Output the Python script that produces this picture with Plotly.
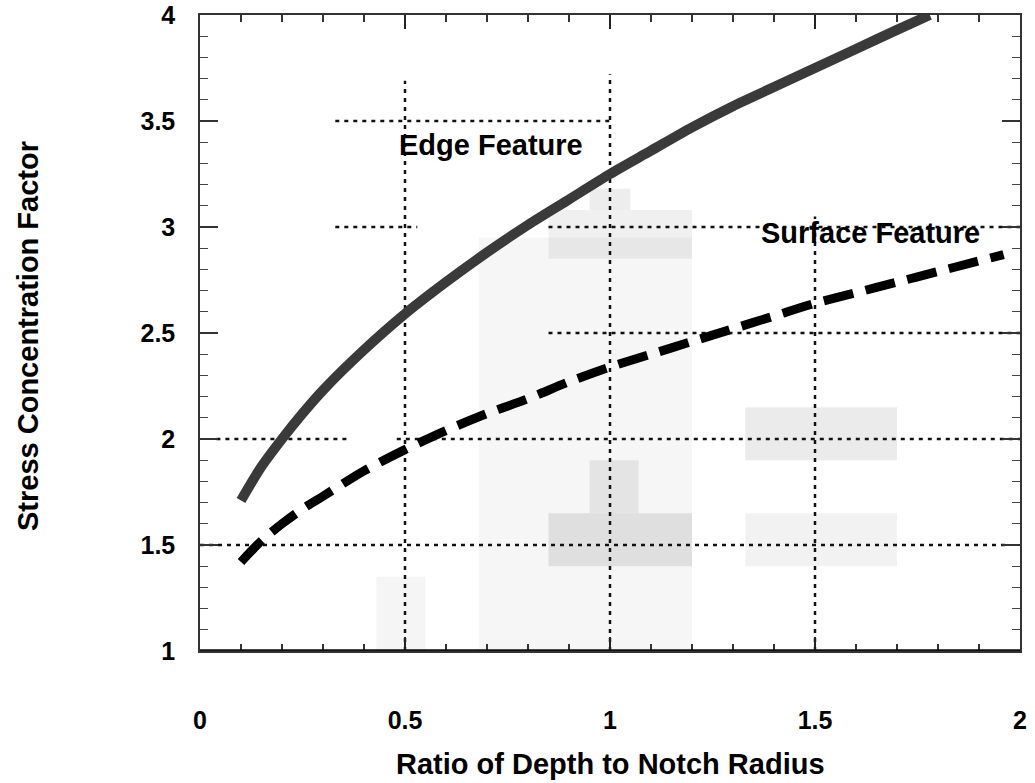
import plotly.graph_objects as go

# ---- data ----
edge_x = [0.1, 0.15, 0.2, 0.25, 0.3, 0.4, 0.5, 0.6, 0.7, 0.8, 0.9, 1.0,
          1.1, 1.2, 1.3, 1.4, 1.5, 1.6, 1.7, 1.78]
edge_y = [1.71, 1.87, 2.00, 2.12, 2.23, 2.42, 2.59, 2.74, 2.88, 3.01, 3.13, 3.25,
          3.36, 3.47, 3.57, 3.66, 3.75, 3.84, 3.93, 4.00]

surf_x = [0.1, 0.15, 0.2, 0.25, 0.3, 0.4, 0.5, 0.6, 0.7, 0.8, 0.9, 1.0,
          1.1, 1.2, 1.3, 1.4, 1.5, 1.6, 1.7, 1.8, 1.9, 1.96]
surf_y = [1.42, 1.52, 1.60, 1.67, 1.73, 1.85, 1.95, 2.04, 2.12, 2.19, 2.27, 2.34,
          2.40, 2.46, 2.52, 2.58, 2.64, 2.69, 2.74, 2.79, 2.84, 2.87]

x_ticks = [0, 0.5, 1, 1.5, 2]
x_tick_labels = ["0", "0.5", "1", "1.5", "2"]
y_ticks = [1, 1.5, 2, 2.5, 3, 3.5, 4]
y_tick_labels = ["1", "1.5", "2", "2.5", "3", "3.5", "4"]

labels = ["Edge Feature", "Surface Feature"]
label_x = [0.71, 1.635]
label_y = [3.385, 2.97]

x_title = "Ratio of Depth to Notch Radius"
y_title = "Stress Concentration Factor"

# dotted grid segments as they appear in the reference (x0, x1, y0, y1)
grid_segments = [
    (0.5, 0.5, 1.0, 3.69),
    (1.0, 1.0, 1.0, 3.72),
    (1.5, 1.5, 1.0, 3.05),
    (0.33, 1.0, 3.5, 3.5),
    (0.33, 0.53, 3.0, 3.0),
    (0.85, 2.0, 3.0, 3.0),
    (0.85, 2.0, 2.5, 2.5),
    (0.04, 0.36, 2.0, 2.0),
    (0.48, 2.0, 2.0, 2.0),
    (0.0, 1.97, 1.5, 1.5),
]

# faint scan-noise patches (x0, x1, y0, y1, colour)
patches = [
    (0.68, 1.2, 0.9, 2.95, "rgba(0,0,0,0.035)"),
    (0.85, 1.2, 2.85, 3.08, "rgba(0,0,0,0.06)"),
    (0.95, 1.05, 3.08, 3.18, "rgba(0,0,0,0.07)"),
    (0.85, 1.2, 1.4, 1.65, "rgba(0,0,0,0.09)"),
    (0.95, 1.07, 1.65, 1.9, "rgba(0,0,0,0.07)"),
    (1.33, 1.7, 1.9, 2.15, "rgba(0,0,0,0.08)"),
    (1.33, 1.7, 1.4, 1.65, "rgba(0,0,0,0.05)"),
    (0.43, 0.55, 0.9, 1.35, "rgba(0,0,0,0.04)"),
]

FONT = "Liberation Sans, Arial, Helvetica, sans-serif"

fig = go.Figure()

fig.add_trace(go.Scatter(
    x=edge_x, y=edge_y, mode="lines", name=labels[0],
    line=dict(color="#3a3a3a", width=10, shape="spline", smoothing=0.8),
    showlegend=False, hoverinfo="skip",
))
fig.add_trace(go.Scatter(
    x=surf_x, y=surf_y, mode="lines", name=labels[1],
    line=dict(color="#000000", width=9, dash="30px,13px", shape="spline", smoothing=0.8),
    showlegend=False, hoverinfo="skip",
))

shapes = []
for x0, x1, y0, y1, col in patches:
    shapes.append(dict(type="rect", xref="x", yref="y", x0=x0, x1=x1, y0=y0, y1=y1,
                       fillcolor=col, line=dict(width=0), layer="below"))
for x0, x1, y0, y1 in grid_segments:
    shapes.append(dict(type="line", xref="x", yref="y", x0=x0, x1=x1, y0=y0, y1=y1,
                       line=dict(color="#111111", width=2.5, dash="4px,5px"), layer="below"))
# heavier bottom axis line
shapes.append(dict(type="line", xref="x", yref="y", x0=0, x1=2, y0=1, y1=1,
                   line=dict(color="#111111", width=3.5), layer="above"))

annotations = []
for t, ax_, ay_ in zip(labels, label_x, label_y):
    annotations.append(dict(x=ax_, y=ay_, xref="x", yref="y", text=t, showarrow=False,
                            xanchor="center", yanchor="middle",
                            font=dict(family=FONT, size=29, color="#000", weight="bold")))
annotations.append(dict(x=0.5, y=-0.178, xref="paper", yref="paper", text=x_title,
                        showarrow=False, xanchor="center", yanchor="middle",
                        font=dict(family=FONT, size=29, color="#000", weight="bold")))
annotations.append(dict(x=-0.21, y=0.495, xref="paper", yref="paper", text=y_title,
                        showarrow=False, xanchor="center", yanchor="middle", textangle=-90,
                        font=dict(family=FONT, size=29, color="#000", weight="bold")))

fig.update_layout(
    width=1035, height=783,
    margin=dict(l=200, r=15, t=15, b=132, autoexpand=False),
    paper_bgcolor="white", plot_bgcolor="white",
    shapes=shapes, annotations=annotations,
    showlegend=False,
    xaxis=dict(
        range=[0, 2], tickvals=x_ticks, ticktext=x_tick_labels,
        showgrid=False, zeroline=False, automargin=False,
        showline=True, linecolor="#333", linewidth=1.5, mirror="allticks",
        ticks="inside", ticklen=14, tickwidth=2, tickcolor="#222",
        minor=dict(dtick=0.1, ticks="inside", ticklen=7, tickwidth=1.5, tickcolor="#333", showgrid=False),
        tickfont=dict(family=FONT, size=25, color="#000", weight="bold"),
        ticklabelstandoff=46,
    ),
    yaxis=dict(
        range=[1, 4], tickvals=y_ticks, ticktext=y_tick_labels,
        showgrid=False, zeroline=False, automargin=False,
        showline=True, linecolor="#333", linewidth=1.5, mirror="allticks",
        ticks="inside", ticklen=18, tickwidth=1.5, tickcolor="#333",
        minor=dict(dtick=0.1, ticks="inside", ticklen=8, tickwidth=1.2, tickcolor="#444", showgrid=False),
        tickfont=dict(family=FONT, size=25, color="#000", weight="bold"),
        ticklabelstandoff=18,
    ),
)

fig.write_html("out.html", config={"displayModeBar": False},
               post_script="document.body.style.margin='0';document.body.style.overflow='hidden';")
